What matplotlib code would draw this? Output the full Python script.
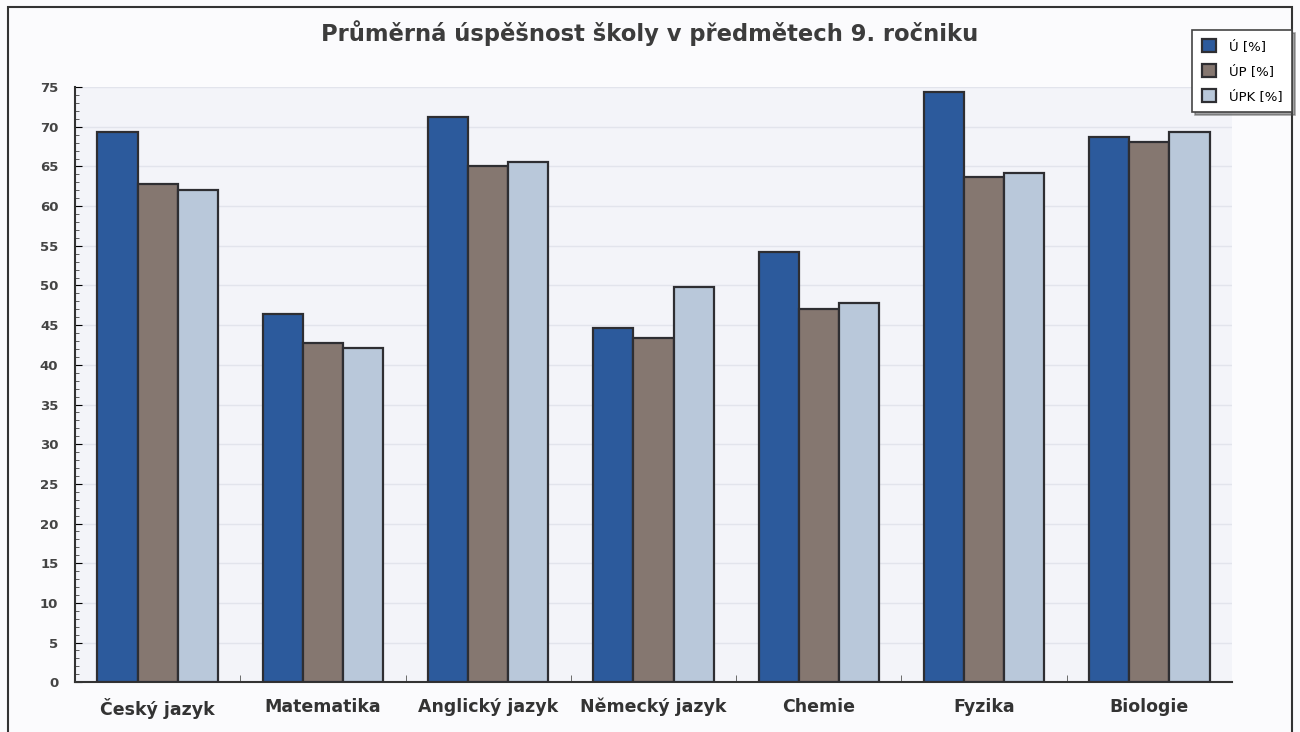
import numpy as np
import matplotlib.pyplot as plt
from matplotlib.patches import Rectangle

# data
subjects = ['Český jazyk', 'Matematika', 'Anglický jazyk', 'Německý jazyk',
            'Chemie', 'Fyzika', 'Biologie']
u_vals = [69.3, 46.4, 71.2, 44.6, 54.2, 74.4, 68.7]
up_vals = [62.8, 42.7, 65.1, 43.4, 47.0, 63.7, 68.1]
upk_vals = [62.0, 42.1, 65.5, 49.8, 47.8, 64.2, 69.3]
series_labels = ['Ú [%]', 'ÚP [%]', 'ÚPK [%]']
y_ticks = list(range(0, 80, 5))

colors = ['#2c5a9c', '#857770', '#b9c8da']
edge = '#2e2e32'
bg = '#f3f4f9'

fig = plt.figure(figsize=(13, 7.32), dpi=100)
fig.patch.set_facecolor('#fbfbfd')
fig.patches.append(Rectangle((0.006, -0.01), 0.988, 1.0, transform=fig.transFigure,
                             fill=False, edgecolor='#333333', lw=1.5))

ax = fig.add_axes([0.0577, 0.068, 0.89, 0.813])
ax.set_facecolor(bg)

x = np.arange(len(subjects))
w = 0.243
series = [u_vals, up_vals, upk_vals]
for i, vals in enumerate(series):
    ax.bar(x + (i - 1) * w, vals, width=w, color=colors[i], edgecolor=edge,
           linewidth=1.6, label=series_labels[i], zorder=3)

ax.set_xlim(-0.5, len(subjects) - 0.5)
ax.set_ylim(0, 75)
ax.set_yticks(y_ticks)
ax.set_yticks(np.arange(0, 76, 1), minor=True)
ax.yaxis.grid(True, color='#e2e4ec', lw=1.0, zorder=0)
ax.set_axisbelow(True)

ax.set_xticks(x)
ax.set_xticklabels(subjects, fontsize=12.5, fontweight='bold', color='#333333')
ax.set_xticks(np.arange(0.5, len(subjects) - 0.5, 1), minor=True)
ax.tick_params(axis='x', which='major', length=0, pad=11)
ax.tick_params(axis='x', which='minor', direction='in', length=5, color='#555555')
ax.tick_params(axis='y', which='major', direction='in', length=5, labelsize=9.5,
               labelcolor='#444444', pad=12)
ax.tick_params(axis='y', which='minor', direction='in', length=3, color='#444444')
for lbl in ax.get_yticklabels():
    lbl.set_fontweight('bold')

for s in ['top', 'right']:
    ax.spines[s].set_visible(False)
ax.spines['left'].set_color('#333333')
ax.spines['bottom'].set_color('#333333')
ax.spines['left'].set_linewidth(1.5)
ax.spines['bottom'].set_linewidth(1.5)

fig.text(0.5, 0.955, 'Průměrná úspěšnost školy v předmětech 9. ročniku',
         ha='center', va='center', fontsize=16.3, fontweight='bold',
         color='#3c3c3c')

leg = fig.legend(loc='upper right', bbox_to_anchor=(0.999, 0.968), fontsize=9.5,
                 frameon=True, fancybox=False, edgecolor='#444444',
                 handlelength=1.1, handleheight=1.1, labelspacing=0.85,
                 handletextpad=1.0, borderpad=0.7, shadow=True)
leg.get_frame().set_linewidth(1.2)

fig.savefig('out.png', dpi=100, facecolor=fig.get_facecolor())
